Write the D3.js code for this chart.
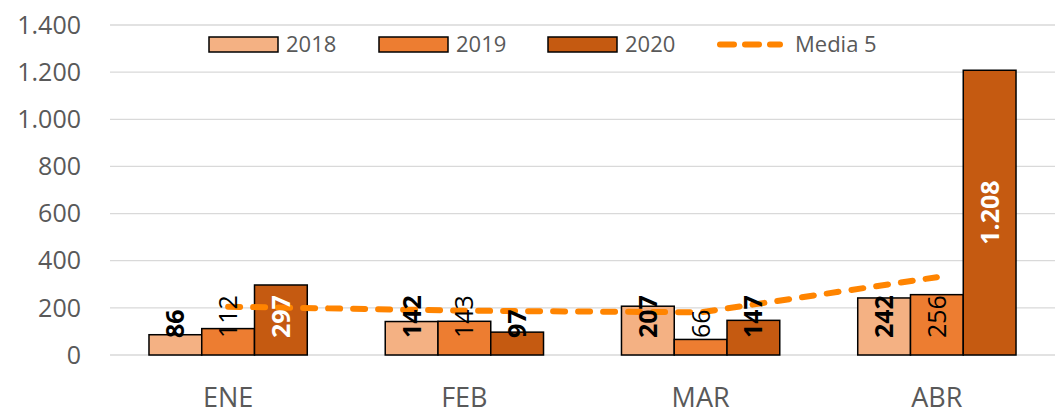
<!DOCTYPE html>
<html>
<head>
<meta charset="utf-8">
<script src="https://cdn.jsdelivr.net/npm/d3@7"></script>
<style>
  body { margin: 0; background: #fff; }
  svg text { font-family: "Open Sans", sans-serif; }
</style>
</head>
<body>
<svg id="svg"></svg>
<script>
// data
const months = ["ENE", "FEB", "MAR", "ABR"];
const series = ["2018", "2019", "2020"];
const v2018 = [86, 142, 207, 242];
const v2019 = [112, 143, 66, 256];
const v2020 = [297, 97, 147, 1208];
const media5 = [205, 188, 181, 330];
const yTicks = [0, 200, 400, 600, 800, 1000, 1200, 1400];

const colors = ["#F4B183", "#ED7D31", "#C55A11"];
const lineColor = "#FF8400";

const w = 1058, h = 419;
const svg = d3.select("#svg").attr("width", w).attr("height", h);

const es = d3.formatLocale({decimal: ",", thousands: ".", grouping: [3], currency: ["", "€"]});
const fmt = es.format(",");

const x0 = d3.scaleBand().domain(months).range([110, 1055])
  .paddingInner(0.33).paddingOuter(0.165);
const x1 = d3.scaleBand().domain(series).range([0, x0.bandwidth()]);
const y = d3.scaleLinear().domain([0, 1400]).range([355, 25]);

// gridlines
svg.append("g")
  .selectAll("line")
  .data(yTicks)
  .enter()
  .append("line")
  .attr("x1", 110).attr("x2", 1055)
  .attr("y1", d => y(d)).attr("y2", d => y(d))
  .attr("stroke", "#D9D9D9")
  .attr("stroke-width", 1.3);

// y axis labels
svg.append("g")
  .selectAll("text")
  .data(yTicks)
  .enter()
  .append("text")
  .attr("x", 81)
  .attr("y", d => y(d))
  .attr("dy", "0.35em")
  .attr("text-anchor", "end")
  .attr("font-size", 25)
  .attr("fill", "#595959")
  .text(d => fmt(d));

// x axis labels
svg.append("g")
  .selectAll("text")
  .data(months)
  .enter()
  .append("text")
  .attr("x", d => x0(d) + x0.bandwidth() / 2)
  .attr("y", 407)
  .attr("text-anchor", "middle")
  .attr("font-size", 27)
  .attr("fill", "#595959")
  .text(d => d);

const rows = [];
months.forEach(function (m, i) {
  rows.push({month: m, s: "2018", value: v2018[i], ci: 0});
  rows.push({month: m, s: "2019", value: v2019[i], ci: 1});
  rows.push({month: m, s: "2020", value: v2020[i], ci: 2});
});

svg.append("g")
  .selectAll("rect")
  .data(rows)
  .enter()
  .append("rect")
  .attr("x", d => x0(d.month) + x1(d.s))
  .attr("y", d => y(d.value))
  .attr("width", x1.bandwidth())
  .attr("height", d => y(0) - y(d.value))
  .attr("fill", d => colors[d.ci])
  .attr("stroke", "#000")
  .attr("stroke-width", 1.5);

// media line
const line = d3.line()
  .x((d, i) => x0(months[i]) + x0.bandwidth() / 2)
  .y(d => y(d));

svg.append("path")
  .datum(media5)
  .attr("d", line)
  .attr("fill", "none")
  .attr("stroke", lineColor)
  .attr("stroke-width", 6)
  .attr("stroke-linecap", "round")
  .attr("stroke-dasharray", "12 13");

// bar labels
svg.append("g")
  .selectAll("text")
  .data(rows)
  .enter()
  .append("text")
  .attr("transform", function (d) {
    const cx = x0(d.month) + x1(d.s) + x1.bandwidth() / 2;
    const big = d.value > 1000;
    const cy = big ? (y(d.value) + y(0)) / 2 : y(0) - 17;
    return "translate(" + cx + "," + cy + ") rotate(-90)";
  })
  .attr("text-anchor", d => d.value > 1000 ? "middle" : "start")
  .attr("dy", "0.36em")
  .attr("font-size", 25)
  .attr("font-weight", d => d.ci === 1 ? "normal" : "bold")
  .attr("fill", d => (d.ci === 2 && d.value > 200) ? "#fff" : "#000")
  .text(d => fmt(d.value));

// legend
const legendX = [209, 379, 548];
const leg = svg.append("g");
series.forEach(function (s, i) {
  leg.append("rect")
    .attr("x", legendX[i]).attr("y", 37)
    .attr("width", 69).attr("height", 15)
    .attr("fill", colors[i])
    .attr("stroke", "#000").attr("stroke-width", 1.5);
  leg.append("text")
    .attr("x", legendX[i] + 77).attr("y", 44.5)
    .attr("dy", "0.35em")
    .attr("font-size", 22)
    .attr("fill", "#595959")
    .text(s);
});
leg.append("line")
  .attr("x1", 720).attr("x2", 780)
  .attr("y1", 44.5).attr("y2", 44.5)
  .attr("stroke", lineColor)
  .attr("stroke-width", 6)
  .attr("stroke-linecap", "round")
  .attr("stroke-dasharray", "14 11");
leg.append("text")
  .attr("x", 795).attr("y", 44.5)
  .attr("dy", "0.35em")
  .attr("font-size", 22)
  .attr("fill", "#595959")
  .text("Media 5");
</script>
</body>
</html>
